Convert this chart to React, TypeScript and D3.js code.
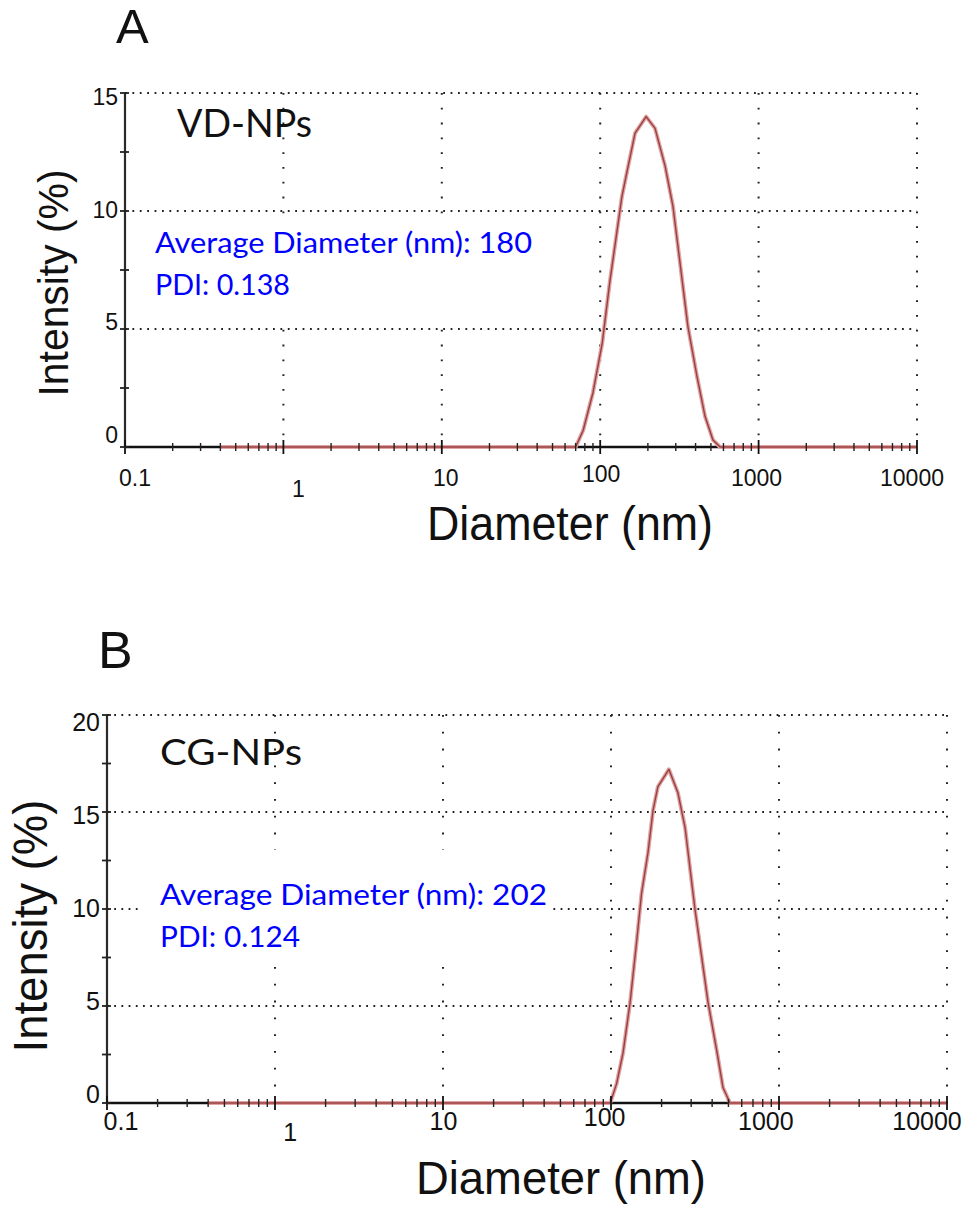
import React from "react";
import * as d3 from "d3";

// ---------- data ----------
const xTickValues = [0.1, 1, 10, 100, 1000, 10000];
const xTickLabels = ["0.1", "1", "10", "100", "1000", "10000"];
const yTicksA = [0, 5, 10, 15];
const yTicksB = [0, 5, 10, 15, 20];

// Panel A : VD-NPs size distribution (by intensity)
const sizesA = [0.4, 70, 78, 90, 103, 115, 137, 148, 166, 195, 222, 257, 288, 358, 408, 459, 515, 571, 10000];
const intensityA = [0, 0, 0.7, 2.3, 4.4, 7.0, 10.6, 11.7, 13.3, 14.0, 13.5, 11.9, 10.2, 5.1, 3.0, 1.3, 0.3, 0, 0];

// Panel B : CG-NPs size distribution (by intensity)
const sizesB = [0.4, 99, 108, 118, 130, 142, 152, 166, 178, 190, 221, 250, 276, 316, 378, 428, 464, 511, 10000];
const intensityB = [0, 0, 1.0, 2.6, 5.2, 8.3, 10.8, 12.9, 15.1, 16.3, 17.2, 16.0, 14.2, 10.0, 5.2, 2.6, 0.8, 0, 0];

const panelLetters = ["A", "B"];
const sampleNames = ["VD-NPs", "CG-NPs"];
const avgDiameters = ["180", "202"];
const pdis = ["0.138", "0.124"];

const AXIS_FONT = "'Liberation Sans', Arial, sans-serif";
const NOTE_FONT = "Lato, 'Open Sans', sans-serif";

type PanelProps = {
  sizes: number[];
  values: number[];
  yTicks: number[];
  yMax: number;
  x0: number; x1: number; y0: number; y1: number;
  xLabelRange: [number, number];
  yLabelRange: [number, number];
  xLabelBaseline: number;
  tickFont: number;
  letter: string; letterX: number; letterY: number; letterSize: number;
  name: string; nameX: number; nameY: number; nameSize: number; nameLen: number;
  avg: string; pdi: string; noteX: number; noteY: number; noteGap: number; noteLen: number; pdiLen: number;
  box: [number, number, number, number];
  yTitleX: number; yTitleY: number; yTitleSize: number; yTitleLen: number;
  xTitleX: number; xTitleY: number; xTitleSize: number; xTitleLen: number;
  hDash: string; vDash: string;
};

function Panel(p: PanelProps) {
  const x = d3.scaleLog().domain([0.1, 10000]).range([p.x0, p.x1]);
  const y = d3.scaleLinear().domain([0, p.yMax]).range([p.y0, p.y1]);
  const xl = d3.scaleLog().domain([0.1, 10000]).range(p.xLabelRange);
  const yl = d3.scaleLinear().domain([0, p.yMax]).range(p.yLabelRange);

  const minorX: number[] = [];
  [0.1, 1, 10, 100, 1000].forEach((d) => {
    for (let k = 2; k <= 9; k++) minorX.push(d * k);
  });
  const yTickMarks = d3.range(0, p.yMax + 0.001, 2.5);

  const pts: [number, number][] = p.sizes.map((s, i) => [s, p.values[i]]);
  const line = d3
    .line<[number, number]>()
    .x((d) => x(d[0]))
    .y((d) => y(d[1]));
  const path = line(pts) || "";

  const gridColor = "#222";

  return (
    <g>
      {/* panel letter */}
      <text x={p.letterX} y={p.letterY} fontFamily={AXIS_FONT} fontSize={p.letterSize} fill="#111">
        {p.letter}
      </text>

      {/* horizontal dotted grid */}
      {p.yTicks.filter((t) => t > 0).map((t) => (
        <line key={"h" + t} x1={p.x0} x2={p.x1} y1={y(t)} y2={y(t)} stroke={gridColor} strokeWidth={2} strokeDasharray={p.hDash} />
      ))}
      {/* vertical dotted grid */}
      {xTickValues.filter((t) => t > 0.1).map((t) => (
        <line key={"v" + t} x1={x(t)} x2={x(t)} y1={p.y1} y2={p.y0} stroke={gridColor} strokeWidth={2} strokeDasharray={p.vDash} />
      ))}

      {/* sample name */}
      <text x={p.nameX} y={p.nameY} fontFamily={NOTE_FONT} fontSize={p.nameSize} fill="#111" textLength={p.nameLen} lengthAdjust="spacingAndGlyphs">
        {p.name}
      </text>

      {/* white box behind the note */}
      <rect x={p.box[0]} y={p.box[1]} width={p.box[2] - p.box[0]} height={p.box[3] - p.box[1]} fill="#fff" />
      <text x={p.noteX} y={p.noteY} fontFamily={NOTE_FONT} fontSize={29} fill="#0000ff" textLength={p.noteLen} lengthAdjust="spacingAndGlyphs">
        {`Average Diameter (nm): ${p.avg}`}
      </text>
      <text x={p.noteX} y={p.noteY + p.noteGap} fontFamily={NOTE_FONT} fontSize={29} fill="#0000ff" textLength={p.pdiLen} lengthAdjust="spacingAndGlyphs">
        {`PDI: ${p.pdi}`}
      </text>

      {/* axes */}
      <line x1={p.x0} x2={p.x0} y1={p.y1} y2={p.y0} stroke="#2a2a2a" strokeWidth={2.2} />
      <line x1={p.x0} x2={p.x1} y1={p.y0} y2={p.y0} stroke="#111" strokeWidth={2.6} />

      {/* data */}
      <path d={path} fill="none" stroke="#dfa3a3" strokeWidth={4} strokeLinejoin="round" />
      <path d={path} fill="none" stroke="#9a3f3f" strokeWidth={1.4} strokeLinejoin="round" />

      {/* x ticks */}
      {minorX.map((t) => (
        <line key={"mx" + t} x1={x(t)} x2={x(t)} y1={p.y0 - 4} y2={p.y0 + 4} stroke="#222" strokeWidth={1.4} />
      ))}
      {xTickValues.map((t) => (
        <line key={"Mx" + t} x1={x(t)} x2={x(t)} y1={p.y0 - 7} y2={p.y0 + 7} stroke="#111" strokeWidth={1.8} />
      ))}
      {/* y ticks */}
      {yTickMarks.map((t) => (
        <line key={"yt" + t} x1={p.x0 - 5} x2={p.x0 + 4} y1={y(t)} y2={y(t)} stroke="#222" strokeWidth={1.8} />
      ))}

      {/* x tick labels */}
      {xTickValues.map((t, i) => (
        <text
          key={"xl" + t}
          x={xl(t) + (t === 1 ? 8 : 0)}
          y={p.xLabelBaseline + (t === 1 ? 11 : t === 100 ? -4 : 0)}
          textAnchor="middle"
          fontFamily={AXIS_FONT}
          fontSize={p.tickFont}
          fill="#111"
        >
          {xTickLabels[i]}
        </text>
      ))}
      {/* y tick labels */}
      {p.yTicks.map((t) => (
        <text key={"yl" + t} x={p.x0 - 7} y={yl(t)} textAnchor="end" fontFamily={AXIS_FONT} fontSize={p.tickFont} fill="#111">
          {t}
        </text>
      ))}

      {/* axis titles */}
      <text
        transform={`translate(${p.yTitleX},${p.yTitleY}) rotate(-90)`}
        textAnchor="middle"
        fontFamily={AXIS_FONT}
        fontSize={p.yTitleSize}
        fill="#111"
        textLength={p.yTitleLen}
        lengthAdjust="spacingAndGlyphs"
      >
        Intensity (%)
      </text>
      <text
        x={p.xTitleX}
        y={p.xTitleY}
        textAnchor="middle"
        fontFamily={AXIS_FONT}
        fontSize={p.xTitleSize}
        fill="#111"
        textLength={p.xTitleLen}
        lengthAdjust="spacingAndGlyphs"
      >
        Diameter (nm)
      </text>
    </g>
  );
}

export default function App() {
  return (
    <svg
      width={971}
      height={1207}
      viewBox="0 0 971 1207"
      style={{ position: "absolute", left: 0, top: 0, background: "#fff", display: "block" }}
    >
      <rect x={0} y={0} width={971} height={1207} fill="#fff" />
      <Panel
        sizes={sizesA}
        values={intensityA}
        yTicks={yTicksA}
        yMax={15}
        x0={125} x1={917} y0={447} y1={93}
        xLabelRange={[135, 912]}
        yLabelRange={[443, 105]}
        xLabelBaseline={486}
        tickFont={23}
        letter={panelLetters[0]} letterX={116} letterY={43} letterSize={49}
        name={sampleNames[0]} nameX={177} nameY={137} nameSize={38} nameLen={135}
        avg={avgDiameters[0]} pdi={pdis[0]} noteX={155} noteY={253} noteGap={42} noteLen={377} pdiLen={135}
        box={[143, 216, 545, 318]}
        yTitleX={68} yTitleY={283} yTitleSize={43} yTitleLen={227}
        xTitleX={570} xTitleY={540} xTitleSize={48} xTitleLen={286}
        hDash="1.8 5.6" vDash="1.8 13"
      />
      <Panel
        sizes={sizesB}
        values={intensityB}
        yTicks={yTicksB}
        yMax={20}
        x0={107} x1={947} y0={1103} y1={715}
        xLabelRange={[121, 927]}
        yLabelRange={[1103, 731]}
        xLabelBaseline={1130}
        tickFont={25}
        letter={panelLetters[1]} letterX={98} letterY={668} letterSize={52}
        name={sampleNames[1]} nameX={160} nameY={765} nameSize={37} nameLen={142}
        avg={avgDiameters[1]} pdi={pdis[1]} noteX={160} noteY={905} noteGap={42} noteLen={387} pdiLen={140}
        box={[140, 850, 553, 962]}
        yTitleX={47} yTitleY={926} yTitleSize={48} yTitleLen={253}
        xTitleX={561} xTitleY={1194} xTitleSize={47} xTitleLen={290}
        hDash="1.8 5.4" vDash="1.8 15"
      />
    </svg>
  );
}
